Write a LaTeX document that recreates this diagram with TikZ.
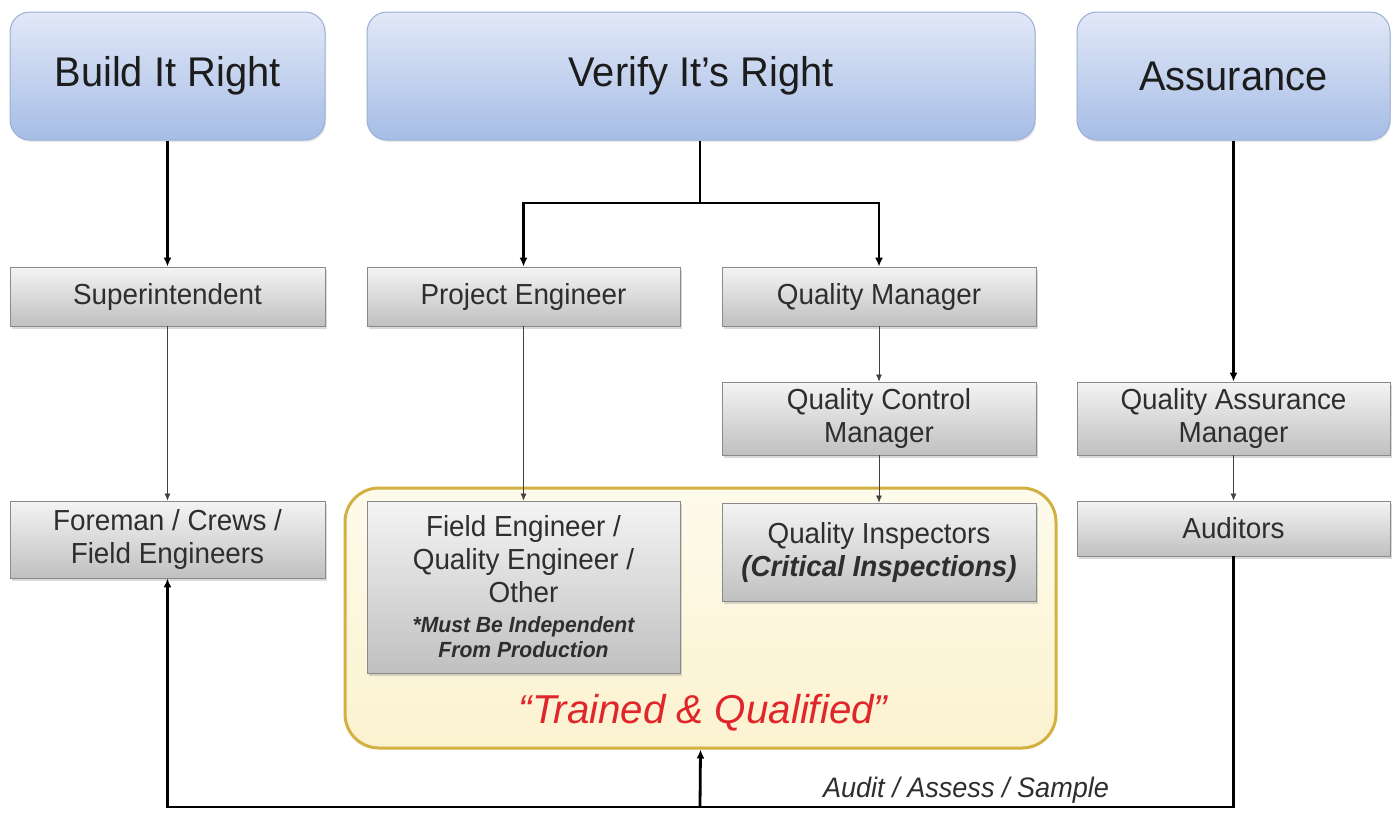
\documentclass[tikz,border=0pt]{standalone}
\usepackage{fontspec}
\setmainfont{Liberation Sans}
\newfontfamily\cf[FakeStretch=0.96]{Liberation Sans}
\newcommand\mynotefont{\cf\fontsize{22}{25}\selectfont\bfseries\itshape}
\usetikzlibrary{arrows.meta,shadows,positioning}
\definecolor{headtop}{HTML}{E2E8F7}
\definecolor{headbot}{HTML}{A6BDE6}
\definecolor{headline}{HTML}{9AAFD3}
\definecolor{boxtop}{HTML}{F4F4F4}
\definecolor{boxbot}{HTML}{C0C0C0}
\definecolor{boxline}{HTML}{8A8A8A}
\definecolor{yeltop}{HTML}{FEFBEC}
\definecolor{yelbot}{HTML}{FBF2CF}
\definecolor{yelline}{HTML}{D2B041}
\definecolor{headtxt}{HTML}{1C1C1C}
\definecolor{txt}{HTML}{2E2E2E}
\definecolor{redtxt}{HTML}{E0262B}
\tikzset{
  head/.style={draw=headline, line width=1pt, rounded corners=20pt, top color=headtop, bottom color=headbot,
    minimum height=128pt, inner sep=0pt, text=headtxt, font=\cf\fontsize{41.5}{46}\selectfont,
    drop shadow={opacity=0.18, shadow xshift=1pt, shadow yshift=-2pt}},
  box/.style={draw=boxline, line width=0.8pt, top color=boxtop, bottom color=boxbot, inner sep=0pt,
    align=center, text=txt, font=\cf\fontsize{29}{33}\selectfont,
    drop shadow={opacity=0.3, shadow xshift=1.5pt, shadow yshift=-2.5pt}},
  strong/.style={line width=2.8pt, -{Latex[length=9pt,width=8pt]}},
  weak/.style={line width=0.7pt, draw=black!75, -{Latex[length=7pt,width=6pt]}},
}
\begin{document}
\begin{tikzpicture}[x=1pt,y=-1pt]
\useasboundingbox (0,0) rectangle (1393,812);
% yellow group
\node[draw=yelline, line width=3pt, rounded corners=34pt, top color=yeltop, bottom color=yelbot,
  minimum width=711pt, minimum height=260pt, inner sep=0pt] (yel) at (700.5,618) {};
\node[text=redtxt, font=\fontsize{40.3}{44}\selectfont\itshape] (tq) at (703,713) {``Trained \& Qualified''};
% headers
\node[head, minimum width=315pt] (b1) at (167.5,76) {Build It Right};
\node[head, minimum width=668pt] (b2) at (701,76) {Verify It’s Right};
\node[head, minimum width=313pt] (b3) at (1233.5,76) {Assurance};
% boxes
\node[box, minimum width=315pt, minimum height=59pt] (sup) at (167.5,296.5) {Superintendent};
\node[box, minimum width=313pt, minimum height=59pt] (pe) at (523.5,296.5) {Project Engineer};
\node[box, minimum width=314pt, minimum height=59pt] (qm) at (879,296.5) {Quality Manager};
\node[box, minimum width=314pt, minimum height=73pt] (qcm) at (879,418.5) {Quality Control\\Manager};
\node[box, minimum width=313pt, minimum height=73pt] (qam) at (1233.5,418.5) {Quality Assurance\\Manager};
\node[box, minimum width=315pt, minimum height=77pt] (fore) at (167.5,539.5) {Foreman / Crews /\\Field Engineers};
\node[box, minimum width=313pt, minimum height=172pt] (fe) at (523.5,587)
  {Field Engineer /\\Quality Engineer /\\Other\\[-3pt]{\mynotefont *Must Be Independent}\\[-8pt]{\mynotefont From Production}};
\node[box, minimum width=314pt, minimum height=98pt] (qi) at (879,552) {Quality Inspectors\\{\bfseries\itshape (Critical Inspections)}};
\node[box, minimum width=313pt, minimum height=55pt] (aud) at (1233.5,528.5) {Auditors};
% strong connectors
\draw[strong] (b1.south) -- (sup.north);
\coordinate (split) at (700,203);
\draw[line width=2.8pt] (b2.south -| split) -- (split);
\draw[strong] (split) -| (pe.north);
\draw[strong] (split) -| (qm.north);
\draw[strong] (b3.south) -- (qam.north);
% weak connectors
\draw[weak] (sup.south) -- (fore.north);
\draw[weak] (pe.south) -- (fe.north);
\draw[weak] (qm.south) -- (qcm.north);
\draw[weak] (qcm.south) -- (qi.north);
\draw[weak] (qam.south) -- (aud.north);
% feedback loop
\coordinate (bot) at (700,807);
\draw[strong] (aud.south) |- (bot) -| (fore.south);
\draw[strong] (bot) -- (yel.south);
\node[font=\cf\fontsize{28.2}{32}\selectfont\itshape, text=txt] (lab) at (966,790) {Audit / Assess / Sample};
\end{tikzpicture}
\end{document}
